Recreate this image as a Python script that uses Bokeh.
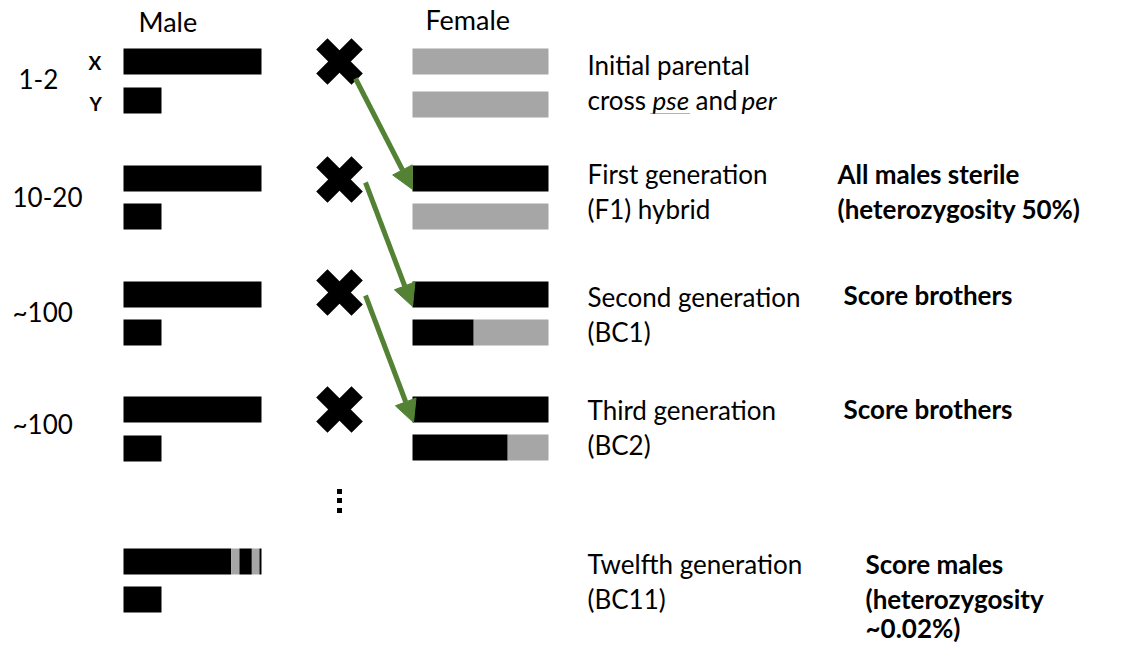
from bokeh.plotting import figure
from bokeh.models import Range1d, Arrow, NormalHead
from bokeh.core.properties import value
from bokeh.embed import file_html
from bokeh.resources import INLINE
import math

# ---------------- data ----------------
header_labels = ["Male", "Female"]
generation_counts = ["1-2", "10-20", "~100", "~100"]
chromosome_labels = ["X", "Y"]
generation_titles = ["Initial parental", "First generation", "Second generation",
                     "Third generation", "Twelfth generation"]
generation_subtitles = [None, "(F1) hybrid", "(BC1)", "(BC2)", "(BC11)"]
first_subtitle_parts = ["cross", "pse", "and", "per"]
first_subtitle_styles = ["normal", "italic", "normal", "italic"]
notes = [[], ["All males sterile", "(heterozygosity 50%)"], ["Score brothers"],
         ["Score brothers"], ["Score males", "(heterozygosity", "~0.02%)"]]
# fraction of each female chromosome that is from the "black" (male line) species
female_top_black = [0.0, 1.0, 1.0, 1.0]
female_bottom_black = [0.0, 0.0, 0.45, 0.70]
# twelfth-generation male X: segment boundaries (fraction of length) and origin
male_last_bounds = [0.0, 0.78, 0.84, 0.93, 0.985, 1.0]
male_last_origin = ["black", "gray", "black", "gray", "black"]

# ---------------- layout (screen px) ----------------
BLACK = "#000000"
GRAY = "#a6a6a6"
GREEN = "#548235"
FONT = "Lato"
W, H = 1126, 645
TY = -9  # baseline correction for text

p = figure(width=W, height=H, x_range=Range1d(0, W), y_range=Range1d(H, 0),
           output_backend="svg", toolbar_location=None, min_border=0)
p.axis.visible = False
p.grid.visible = False
p.outline_line_color = None
p.background_fill_color = "white"
p.border_fill_color = "white"

male_left, male_len, male_y_len = 123, 138, 38
fem_left, fem_len = 412, 136
bar_h = 26
row_top = [48, 165, 281, 396, 548]
male_y_top = [87, 203, 319, 435, 586]
fem_bot_top = [91, 203, 319, 434]

def color_of(o):
    return BLACK if o == "black" else GRAY

# male chromosomes
for i, t in enumerate(row_top):
    if i < 4:
        p.quad(left=male_left, right=male_left + male_len, top=t, bottom=t + bar_h,
               fill_color=BLACK, line_color=None)
    else:
        for a, b, o in zip(male_last_bounds[:-1], male_last_bounds[1:], male_last_origin):
            p.quad(left=male_left + a * male_len, right=male_left + b * male_len,
                   top=t, bottom=t + bar_h, fill_color=color_of(o), line_color=None)
    p.quad(left=male_left, right=male_left + male_y_len, top=male_y_top[i],
           bottom=male_y_top[i] + bar_h, fill_color=BLACK, line_color=None)

# female chromosomes
for i in range(4):
    for top, frac in ((row_top[i], female_top_black[i]), (fem_bot_top[i], female_bottom_black[i])):
        split = fem_left + frac * fem_len
        if frac > 0:
            p.quad(left=fem_left, right=split, top=top, bottom=top + bar_h,
                   fill_color=BLACK, line_color=None)
        if frac < 1:
            p.quad(left=split, right=fem_left + fem_len, top=top, bottom=top + bar_h,
                   fill_color=GRAY, line_color=None)

# crosses
cross_x = 339
cross_y = [61, 179, 292, 409]
for ang in (math.pi / 4, -math.pi / 4):
    p.rect(x=[cross_x] * 4, y=cross_y, width=50, height=16, angle=ang,
           width_units="screen", height_units="screen", fill_color=BLACK, line_color=None)

# arrows
arrow_start = [(355, 78), (365, 182), (365, 295)]
arrow_end = [(412, 189), (412, 306), (413, 422)]
for (xs, ys), (xe, ye) in zip(arrow_start, arrow_end):
    p.add_layout(Arrow(x_start=xs, y_start=ys, x_end=xe, y_end=ye,
                       line_color=GREEN, line_width=5,
                       end=NormalHead(size=22, fill_color=GREEN, line_color=GREEN, line_width=1)))

# vertical ellipsis
p.rect(x=[339, 339, 339], y=[491, 500, 510], width=5, height=5,
       width_units="screen", height_units="screen", fill_color=BLACK, line_color=None)

def txt(x, y, s, size, style="normal"):
    p.text(x=[x], y=[y + TY], text=[s], text_font=value(FONT), text_font_size=f"{size}px",
           text_font_style=style, text_color="#000000", text_baseline="alphabetic",
           text_align="left")

# headers
txt(138, 30, header_labels[0], 27)
txt(425, 28, header_labels[1], 27)

# generation counts
count_x = [18, 12, 12, 12]
count_y = [87, 205, 320, 432]
for x, y, s in zip(count_x, count_y, generation_counts):
    txt(x, y, s, 26)

# X / Y labels
txt(88, 71, chromosome_labels[0], 19, "bold")
txt(89, 112, chromosome_labels[1], 19, "bold")

# generation titles
title_x = 587
title_base = [73, 182, 305, 418, 572]
for i, (t, s) in enumerate(zip(generation_titles, generation_subtitles)):
    txt(title_x, title_base[i], t, 26)
    if s is not None:
        txt(title_x, title_base[i] + 35, s, 26)

part_x = [587, 652, 695, 741]
for x, s, st in zip(part_x, first_subtitle_parts, first_subtitle_styles):
    txt(x, 108, s, 26, st)
# spell-check squiggle under "pse"
p.line(x=[650, 690], y=[113, 113], line_color="#e03030", line_width=1, line_dash="1 1")

# notes
note_x = [None, 837, 843, 843, 865]
note_base = [None, 182, 303, 417, 572]
line_offsets = [0, 35, 64]
for i, lines in enumerate(notes):
    for j, s in enumerate(lines):
        txt(note_x[i], note_base[i] + line_offsets[j], s, 26, "bold")

open("out.html", "w").write(file_html(p, INLINE))
